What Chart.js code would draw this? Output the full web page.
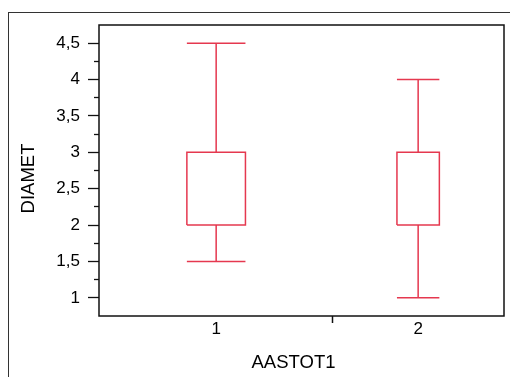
<!DOCTYPE html>
<html>
<head>
<meta charset="utf-8">
<script src="https://cdn.jsdelivr.net/npm/chart.js@4.4.1/dist/chart.umd.min.js"></script>
<style>
  html, body { margin: 0; padding: 0; background: #fff; }
  #wrap { position: relative; width: 510px; height: 377px; overflow: hidden; }
  #frame { position: absolute; left: 8px; top: 12px; right: -2px; bottom: -2px; border-left: 1px solid #333; border-top: 1px solid #333; }
  canvas { position: absolute; left: 0; top: 0; }
</style>
</head>
<body>
<div id="wrap"><div id="frame"></div><canvas id="c" width="510" height="377"></canvas></div>
<script>
// data
const groups = [1, 2]
const groupLabels = ['1', '2']
const whiskerLow = [1.5, 1]
const boxLow = [2, 2]
const medians = [2, 2]
const boxHigh = [3, 3]
const whiskerHigh = [4.5, 4]
const yTicks = [1, 1.5, 2, 2.5, 3, 3.5, 4, 4.5]
const yMinorTicks = [1.25, 1.75, 2.25, 2.75, 3.25, 3.75, 4.25]
const xTitle = 'AASTOT1'
const yTitle = 'DIAMET'

// styling
const RED = '#e5384f'
const FONT = 'Liberation Sans, Arial, sans-serif'
const BOX_HALF = [0.145, 0.105]   // half box width, x-axis units
const X_DIVIDER = 1.575           // tick between the two groups

// every box: whiskers, caps, box outline, median - one polyline, gaps between pieces
const boxPoints = []
groups.forEach((x, i) => {
  const h = BOX_HALF[i]
  const pieces = [
    [[x, whiskerLow[i]], [x, boxLow[i]]],
    [[x, boxHigh[i]], [x, whiskerHigh[i]]],
    [[x - h, whiskerLow[i]], [x + h, whiskerLow[i]]],
    [[x - h, whiskerHigh[i]], [x + h, whiskerHigh[i]]],
    [[x - h, boxLow[i]], [x + h, boxLow[i]], [x + h, boxHigh[i]], [x - h, boxHigh[i]], [x - h, boxLow[i]]],
    [[x - h, medians[i]], [x + h, medians[i]]],
  ]
  pieces.forEach(p => {
    p.forEach(([px, py]) => boxPoints.push({ x: px, y: py }))
    boxPoints.push({ x: x, y: null })
  })
})

// plot frame + axis titles (titles sit a little off the plot centre, as in SPSS output)
const plotFrame = {
  id: 'plotFrame',
  afterDraw(chart) {
    const { ctx, chartArea: a } = chart
    ctx.save()
    ctx.strokeStyle = '#111'
    ctx.lineWidth = 1.5
    ctx.strokeRect(a.left, a.top, a.right - a.left, a.bottom - a.top)

    ctx.fillStyle = '#000'
    ctx.font = `18.5px ${FONT}`
    ctx.textAlign = 'center'
    ctx.textBaseline = 'alphabetic'
    ctx.fillText(xTitle, (a.left + a.right) / 2 - 8, 368)
    ctx.translate(34, (a.top + a.bottom) / 2 + 8)
    ctx.rotate(-Math.PI / 2)
    ctx.fillText(yTitle, 0, 0)
    ctx.restore()
  }
}

new Chart(document.getElementById('c'), {
  type: 'scatter',
  data: {
    datasets: [{
      data: boxPoints,
      showLine: true,
      spanGaps: false,
      borderColor: RED,
      borderWidth: 1.5,
      pointRadius: 0,
      tension: 0,
    }]
  },
  options: {
    responsive: false,
    animation: false,
    layout: { padding: { top: 25, right: 6, left: 0, bottom: 0 } },
    plugins: { legend: { display: false }, tooltip: { enabled: false } },
    scales: {
      x: {
        type: 'linear', min: 0.42, max: 2.425,
        afterBuildTicks: s => { s.ticks = [{ value: groups[0] }, { value: X_DIVIDER }, { value: groups[1] }] },
        afterFit: s => { s.height = 61 },
        ticks: {
          callback: v => { const i = groups.indexOf(v); return i >= 0 ? groupLabels[i] : '' },
          font: { family: FONT, size: 17 }, color: '#000', padding: -4, maxRotation: 0, autoSkip: false,
        },
        grid: {
          drawOnChartArea: false, tickLength: 7, tickWidth: 1.5,
          tickColor: ctx => ctx.tick && ctx.tick.value === X_DIVIDER ? '#111' : 'rgba(0,0,0,0)',
        },
        border: { display: false },
      },
      y: {
        type: 'linear', position: 'left', weight: 1, min: 0.75, max: 4.75,
        afterBuildTicks: s => { s.ticks = yTicks.map(v => ({ value: v })) },
        afterFit: s => { s.width = 99 },
        ticks: {
          callback: v => String(v).replace('.', ','),
          font: { family: FONT, size: 17 }, color: '#000', padding: 8,
        },
        grid: { drawOnChartArea: false, tickLength: 11, tickWidth: 1.3, tickColor: '#111' },
        border: { display: false },
      },
      yMinor: {
        type: 'linear', position: 'left', weight: 0, min: 0.75, max: 4.75,
        afterBuildTicks: s => { s.ticks = yMinorTicks.map(v => ({ value: v })) },
        afterFit: s => { s.width = 0 },
        ticks: { display: false },
        grid: { drawOnChartArea: false, tickLength: 5, tickWidth: 1.3, tickColor: '#111' },
        border: { display: false },
      },
    },
  },
  plugins: [plotFrame],
})
</script>
</body>
</html>
